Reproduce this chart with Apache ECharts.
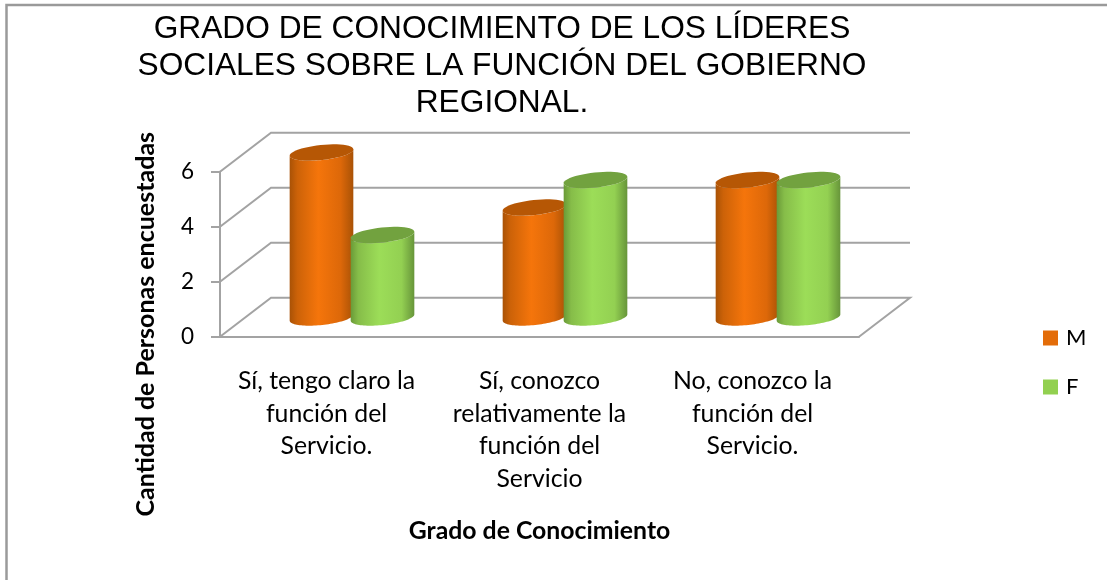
<!DOCTYPE html>
<html>
<head>
<meta charset="utf-8">
<style>html,body{margin:0;padding:0;background:#fff}#c{width:1107px;height:580px}</style>
<script src="https://cdn.jsdelivr.net/npm/echarts@6/dist/echarts.min.js"></script>
</head>
<body>
<div id="c"></div>
<script>
const categories = ['Sí, tengo claro la\nfunción del\nServicio.', 'Sí, conozco\nrelativamente la\nfunción del\nServicio', 'No, conozco la\nfunción del\nServicio.'];
const valuesM = [6, 4, 5];
const valuesF = [3, 5, 5];
const yTicks = [0, 2, 4, 6];
const titleText = 'GRADO DE CONOCIMIENTO DE LOS LÍDERES\nSOCIALES SOBRE LA FUNCIÓN DEL GOBIERNO\nREGIONAL.';
const yName = 'Cantidad de Personas encuestadas';
const xName = 'Grado de Conocimiento';

const DEPTH_X = 51, DEPTH_Y = 39;
const GRID = '#a3a3a3';
const FONT = 'Lato, "Open Sans", sans-serif';

function ellipsePts(cx, cy, rx, ry, rot, from, to) {
  const pts = [], n = 48, c = Math.cos(rot), s = Math.sin(rot);
  for (let i = 0; i <= n; i++) {
    const t = from + (to - from) * i / n;
    const x = rx * Math.cos(t), y = ry * Math.sin(t);
    pts.push([cx + x * c - y * s, cy + x * s + y * c]);
  }
  return pts;
}

function cylinder(dir, stops, topColor) {
  return function (params, api) {
    const top = api.coord([api.value(0), api.value(1)]);
    const base = api.coord([api.value(0), 0]);
    const cx = top[0] + DEPTH_X / 2 + dir * 30.5;
    const yTop = top[1] - DEPTH_Y / 2 + 0.3;
    const yBase = base[1] - DEPTH_Y / 2 + 0.3;
    const rx = 32, ry = 7.5, rot = -6 * Math.PI / 180;
    const upper = ellipsePts(cx, yTop, rx, ry, rot, Math.PI, 0);
    const lower = ellipsePts(cx, yBase, rx, ry, rot, 0, Math.PI);
    return {
      type: 'group',
      children: [
        { type: 'polygon', shape: { points: upper.concat(lower) },
          style: { fill: new echarts.graphic.LinearGradient(0, 0, 1, 0, stops) } },
        { type: 'polygon', shape: { points: ellipsePts(cx, yTop, rx, ry, rot, 0, Math.PI * 2) },
          style: { fill: topColor } }
      ]
    };
  };
}

const orangeStops = [
  { offset: 0, color: '#a95206' }, { offset: 0.12, color: '#cc6208' }, { offset: 0.45, color: '#f5750b' },
  { offset: 0.8, color: '#dd6809' }, { offset: 1, color: '#a95206' }];
const greenStops = [
  { offset: 0, color: '#6a9a38' }, { offset: 0.12, color: '#86bd49' }, { offset: 0.45, color: '#9cdd58' },
  { offset: 0.8, color: '#93d052' }, { offset: 1, color: '#67953a' }];

function wallRender(params, api) {
  const cs = params.coordSys;
  const p = api.coord([0, api.value(0)]);
  const y = p[1], x0 = cs.x, x1 = cs.x + cs.width;
  const pts = [[x0, y], [x0 + DEPTH_X, y - DEPTH_Y], [x1 + DEPTH_X, y - DEPTH_Y]];
  if (api.value(0) === 0) pts.push([x1, y]);
  return { type: 'polyline', shape: { points: pts }, style: { stroke: GRID, lineWidth: 2, fill: null } };
}

const option = {
  animation: false,
  backgroundColor: '#fff',
  title: {
    text: titleText, left: 497, top: 6, textAlign: 'center',
    textStyle: { fontFamily: '"Liberation Sans", Arial, sans-serif', fontSize: 31.7, fontWeight: 'normal', color: '#000', lineHeight: 37 }
  },
  legend: {
    orient: 'vertical', left: 1038, top: 322, itemWidth: 15, itemHeight: 15, itemGap: 27, icon: 'rect',
    data: ['M', 'F'],
    textStyle: { fontFamily: FONT, fontSize: 22, lineHeight: 21, color: '#000', padding: [0, 0, 0, 3] }
  },
  grid: { left: 220, top: 171.7, width: 639, height: 165 },
  xAxis: {
    type: 'category', data: categories,
    name: xName, nameLocation: 'middle', nameGap: 182,
    nameTextStyle: { fontFamily: FONT, fontSize: 24.8, fontWeight: 'bold', color: '#000' },
    axisLine: { lineStyle: { color: GRID, width: 2 } },
    axisTick: { show: false },
    axisLabel: { interval: 0, margin: 28, fontFamily: FONT, fontSize: 24.8, lineHeight: 32.6, color: '#000' }
  },
  yAxis: {
    type: 'value', min: 0, max: 6, interval: 2,
    name: yName, nameLocation: 'middle', nameGap: 62,
    nameTextStyle: { fontFamily: FONT, fontSize: 25, fontWeight: 'bold', color: '#000', padding: [0, 140, 0, 0] },
    axisLine: { show: true, lineStyle: { color: GRID, width: 2 } },
    axisTick: { show: true, length: 9, lineStyle: { color: GRID, width: 2 } },
    axisLabel: { margin: 26, fontFamily: FONT, fontSize: 22.5, color: '#000' },
    splitLine: { show: false }
  },
  series: [
    { type: 'custom', name: 'wall', silent: true, z: 1, renderItem: wallRender,
      data: yTicks.map(v => [v]), encode: { y: 0 }, coordinateSystem: 'cartesian2d' },
    { type: 'custom', name: 'M', z: 3, itemStyle: { color: '#e36c09' }, renderItem: cylinder(-1, orangeStops, '#b65705'),
      data: valuesM.map((v, i) => [i, v]), encode: { x: 0, y: 1 } },
    { type: 'custom', name: 'F', z: 4, itemStyle: { color: '#92d050' }, renderItem: cylinder(1, greenStops, '#72a23f'),
      data: valuesF.map((v, i) => [i, v]), encode: { x: 0, y: 1 } }
  ],
  graphic: [{
    type: 'polyline', silent: true, z: 0,
    shape: { points: [[6.5, 580], [6.5, 5], [1107, 5]] },
    style: { stroke: '#9a9a9a', lineWidth: 2.5, fill: null }
  }]
};
const chart = echarts.init(document.getElementById('c'), null, { renderer: 'canvas' });
chart.setOption(option);
</script>
</body>
</html>
